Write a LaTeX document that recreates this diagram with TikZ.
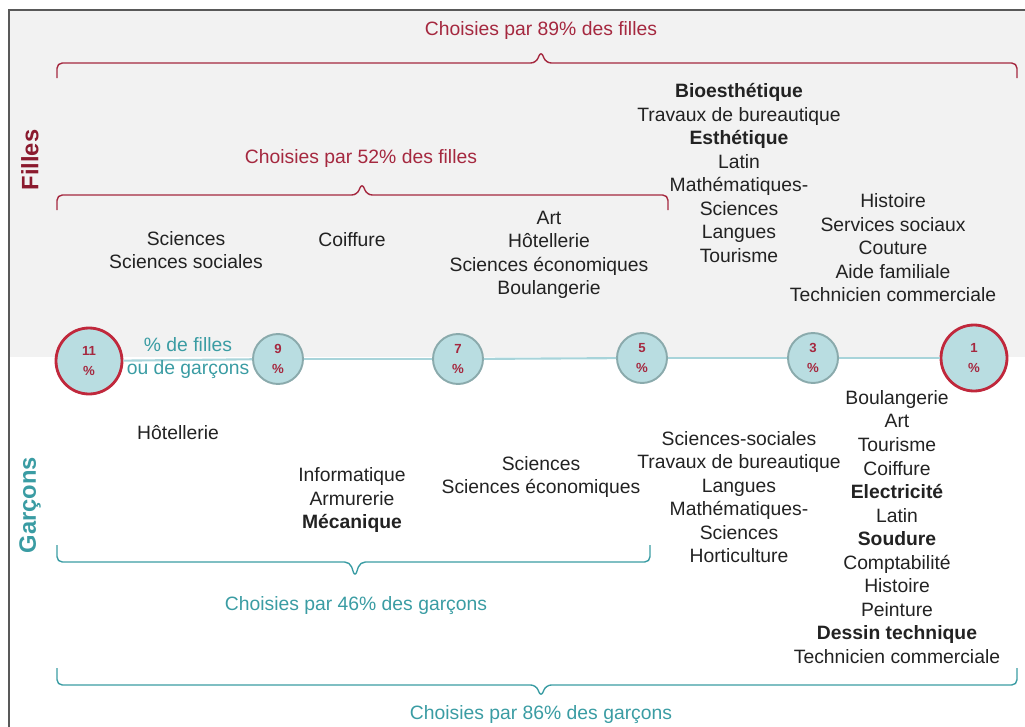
\documentclass[tikz,border=0pt]{standalone}
\usepackage{fontspec}
\setmainfont{Liberation Sans}
\usepackage{tikz}
\usetikzlibrary{positioning,calc}

\definecolor{fgray}{HTML}{F2F2F2}
\definecolor{fred}{HTML}{A5283F}
\definecolor{fdark}{HTML}{8B1A2E}
\definecolor{gteal}{HTML}{3A9CA3}
\definecolor{cfill}{HTML}{B9DDE1}
\definecolor{cgray}{HTML}{8AAAAC}
\definecolor{cred}{HTML}{C0283C}
\definecolor{axis}{HTML}{A8D4DA}
\definecolor{txt}{HTML}{222222}

\begin{document}
\begin{tikzpicture}[
  x=0.02cm, y=-0.02cm,
  font=\fontsize{11}{13.4}\selectfont,
  lbl/.style={align=center, text=txt, inner sep=0pt},
  bigpct/.style={circle, draw=cred, line width=1.6pt, fill=cfill, minimum size=66*0.02cm,
                 inner sep=0pt, align=center, text=fred, font=\fontsize{7.5}{11}\selectfont\bfseries},
  pct/.style={circle, draw=cgray, line width=1.1pt, fill=cfill, minimum size=50*0.02cm,
              inner sep=0pt, align=center, text=fred, font=\fontsize{7.5}{11}\selectfont\bfseries},
  fbrace/.style={draw=fred, line width=0.8pt, rounded corners=3pt},
  gbrace/.style={draw=gteal, line width=0.8pt, rounded corners=3pt},
  side/.style={rotate=90, font=\fontsize{13.5}{16}\selectfont\bfseries, inner sep=0pt},
]
\useasboundingbox (0,0) rectangle (1025,727);
% fond et cadre
\fill[fgray] (9,10) rectangle (1025,357);
\draw[black!65, line width=0.6pt] (9,727) -- (9,10) -- (1025,10);

% axe des pourcentages
\node[bigpct] (c11) at (89,361) {11\\\%};
\node[pct]    (c9)  at (278,359) {9\\\%};
\node[pct]    (c7)  at (458,359) {7\\\%};
\node[pct]    (c5)  at (642,358) {5\\\%};
\node[pct]    (c3)  at (813,358) {3\\\%};
\node[bigpct] (c1)  at (974,358) {1\\\%};
\foreach \a/\b in {c11/c9, c9/c7, c7/c5, c5/c3, c3/c1}
  \draw[axis, line width=1.2pt] (\a) -- (\b);
\node[lbl, text=gteal] (legend) at (188,358) {\% de filles\\ou de garçons};

% cotes
\node[side, text=fdark] (filles) at (30,160) {Filles};
\node[side, text=gteal] (garcons) at (30,505) {Garçons};

% accolades filles
\draw[fbrace] (57,78) -- (57,63) -- (536,63) -- (541,51) -- (546,63) -- (1017,63) -- (1017,78);
\node[lbl, text=fred] (b89) at (541,31) {Choisies par 89\% des filles};
\draw[fbrace] (57,210) -- (57,195) -- (357,195) -- (362,183) -- (367,195) -- (668,195) -- (668,210);
\node[lbl, text=fred] (b52) at (361,159) {Choisies par 52\% des filles};

% accolades garcons
\draw[gbrace] (57,545) -- (57,562) -- (350,562) -- (355,577) -- (360,562) -- (650,562) -- (650,545);
\node[lbl, text=gteal] (b46) at (356,606) {Choisies par 46\% des garçons};
\draw[gbrace] (57,668) -- (57,685) -- (536,685) -- (541,697) -- (546,685) -- (1017,685) -- (1017,668);
\node[lbl, text=gteal] (b86) at (541,715) {Choisies par 86\% des garçons};

% options filles
\node[lbl] (f11) at (186,250) {Sciences\\Sciences sociales};
\node[lbl] (f9)  at (352,240) {Coiffure};
\node[lbl] (f7)  at (549,255) {Art\\Hôtellerie\\Sciences économiques\\Boulangerie};
\node[lbl] (f5)  at (739,173) {\textbf{Bioesthétique}\\Travaux de bureautique\\\textbf{Esthétique}\\Latin\\Mathématiques-\\Sciences\\Langues\\Tourisme};
\node[lbl] (f1)  at (893,248) {Histoire\\Services sociaux\\Couture\\Aide familiale\\Technicien commerciale};

% options garcons
\node[lbl] (g11) at (178,433) {Hôtellerie};
\node[lbl] (g9)  at (352,500) {Informatique\\Armurerie\\\textbf{Mécanique}};
\node[lbl] (g7)  at (541,477) {Sciences\\Sciences économiques};
\node[lbl] (g5)  at (739,497) {Sciences-sociales\\Travaux de bureautique\\Langues\\Mathématiques-\\Sciences\\Horticulture};
\node[lbl] (g1)  at (897,527) {Boulangerie\\Art\\Tourisme\\Coiffure\\\textbf{Electricité}\\Latin\\\textbf{Soudure}\\Comptabilité\\Histoire\\Peinture\\\textbf{Dessin technique}\\Technicien commerciale};
\end{tikzpicture}
\end{document}
